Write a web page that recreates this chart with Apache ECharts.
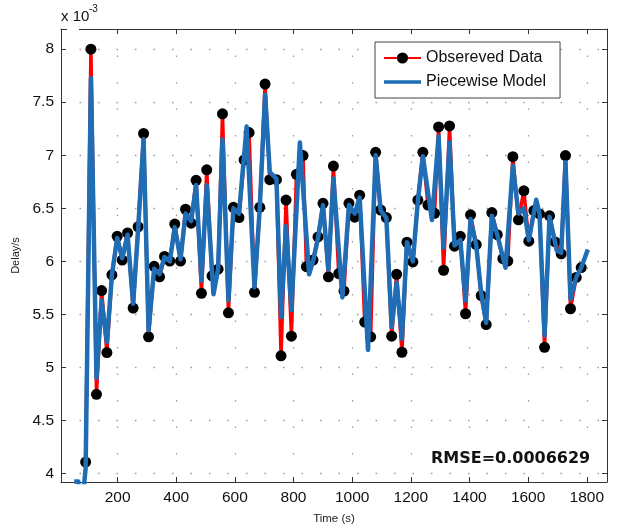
<!DOCTYPE html>
<html>
<head>
<meta charset="utf-8">
<script src="https://cdn.jsdelivr.net/npm/echarts@6/dist/echarts.min.js"></script>
<style>
html,body{margin:0;padding:0;background:#fff;}
#chart{width:619px;height:530px;}
</style>
</head>
<body>
<div id="chart"></div>
<script>
// Observed data (time in s, delay in units of 1e-3 s)
const obsTime = [91,109,128,145.5,163.5,180.6,198.6,215.7,234,253,270,288.6,305.6,324.7,343,360,378,395,414.6,431.7,
  450.8,467.8,486,504,522,542.8,557.7,578,595,614,631.4,648.4,666.8,684.8,703,719,741.7,757.4,774.5,792.8,
  809.9,832.4,843.9,866.5,883.5,900.5,918.9,936,954,972,989,1008.5,1025.5,1042.6,1063,1080,1097,1116.5,1134.6,1151.6,
  1169.7,1186.7,1207,1224,1241,1258.4,1281,1294.7,1311.7,1332,1349,1368.7,1386.7,1403.7,1423,1440,1457,1476.3,1494.7,1513.8,
  1530.8,1547.9,1567,1585.4,1602.4,1619.5,1638.9,1656,1673,1692.3,1712.8,1727.4,1744.5,1764,1781];
const obsDelay = [4.108,8.0,4.746,5.724,5.14,5.873,6.236,6.012,6.267,5.559,6.326,7.205,5.289,5.953,5.854,6.046,6.003,6.351,6.003,6.491,
  6.36,6.764,5.699,6.863,5.863,5.926,7.391,5.515,6.509,6.413,6.956,7.214,5.708,6.509,7.671,6.77,6.77,5.109,6.577,5.295,
  6.82,6.997,5.95,6.012,6.23,6.547,5.854,6.898,5.885,5.72,6.547,6.416,6.624,5.428,5.289,7.028,6.484,6.413,5.295,5.878,
  5.143,6.18,5.994,6.577,7.028,6.531,6.453,7.267,5.916,7.276,6.143,6.236,5.506,6.438,6.158,5.677,5.404,6.46,6.251,6.025,
  6.003,6.987,6.391,6.665,6.19,6.478,6.447,5.189,6.429,6.183,6.071,6.997,5.553,5.848,5.941];

// Piecewise model (time in s, delay in units of 1e-3 s)
const modelTime = [52,66,76,91,109,128,145.5,163.5,180.6,198.6,215.7,234,253,270,288.6,305.6,324.7,343,360,378,395,414.6,431.7,
  450.8,467.8,486,504,527,542.8,557.7,578,595,614,640,666.8,684.8,703,719,741.7,757.4,774.5,792.8,821.6,853,866.5,883.5,900.5,
  918.9,936,966.6,989,1008.5,1025.5,1054,1080,1097,1116.5,1134.6,1151.6,1169.7,1186.7,1207,1224,1241,1272,1294.7,1311.7,1332,
  1349,1368.7,1386.7,1403.7,1423,1440,1457,1476.3,1494.7,1523,1547.9,1567,1585.4,1602.4,1627.6,1638.9,1656,1673,1698,1712.8,
  1727.4,1744.5,1764,1781,1803.6];
const modelDelay = [3.925,3.925,3.6,4.05,7.727,4.9,5.63,5.24,5.87,6.22,6.03,6.25,5.6,6.3,7.15,5.35,5.93,5.88,6.04,6.0,6.32,6.02,6.45,
  6.38,6.72,5.817,6.717,5.69,5.93,7.15,5.63,6.5,6.45,7.27,5.755,6.5,7.57,6.84,6.78,5.475,6.33,5.54,7.12,5.878,6.0,6.22,6.53,
  5.92,6.78,5.66,6.53,6.45,6.6,5.165,7.0,6.48,6.41,5.38,5.8,5.27,6.18,6.0,6.57,6.99,6.39,7.18,6.13,7.12,
  6.15,6.2,5.63,6.4,6.15,5.7,5.42,6.43,6.25,5.94,6.9,6.45,6.5,6.2,6.58,6.45,5.3,6.42,6.1,6.08,
  6.935,5.645,5.85,5.94,6.112];

const xTicks = [200,400,600,800,1000,1200,1400,1600,1800];
const yTicks = [4,4.5,5,5.5,6,6.5,7,7.5,8];
const seriesNames = ['Obsereved Data','Piecewise Model'];
const rmseText = 'RMSE=0.0006629';

const FONT = "'Liberation Sans', Arial, sans-serif";
const frame = '#333';
const chart = echarts.init(document.getElementById('chart'), null, {renderer:'canvas'});

const xBase = {
  type:'value', min:7, max:1869,
  axisLine:{show:true, onZero:false, lineStyle:{color:frame, width:1}},
  axisTick:{show:true, inside:true, length:5, customValues:xTicks, lineStyle:{color:frame}},
};
const yBase = {
  type:'value', min:3.92, max:8.19,
  axisLine:{show:true, onZero:false, lineStyle:{color:frame, width:1}},
  axisTick:{show:true, inside:true, length:5, customValues:yTicks, lineStyle:{color:frame}},
};
const plain = v => String(v);
const lineIcon = 'path://M0,0 L0.01,0 L0.01,0.01 Z M0,5.2 L37,5.2 L37,8.8 L0,8.8 Z M0,14 L0.01,14 L0.01,13.99 Z';

chart.setOption({
  animation:false,
  backgroundColor:'#fff',
  grid:{left:61, right:12, top:29, bottom:43, containLabel:false},
  xAxis:[
    Object.assign({}, xBase, {
      position:'bottom',
      name:'Time (s)', nameLocation:'middle', nameGap:31,
      nameTextStyle:{fontFamily:FONT, fontSize:11.5, color:'#222'},
      axisLabel:{show:true, customValues:xTicks, formatter:plain, margin:8, fontFamily:FONT, fontSize:15.5, color:'#111'},
      splitLine:{show:true, lineStyle:{color:'#9a9a9a', width:1.3, type:[1.5,25]}}
    }),
    Object.assign({}, xBase, {
      position:'top',
      axisLabel:{show:false},
      splitLine:{show:false}
    })
  ],
  yAxis:[
    Object.assign({}, yBase, {
      position:'left',
      name:'Delay/s', nameLocation:'middle', nameGap:40, nameRotate:90,
      nameTextStyle:{fontFamily:FONT, fontSize:11, color:'#222'},
      axisLabel:{show:true, customValues:yTicks, formatter:plain, margin:7, fontFamily:FONT, fontSize:15.5, color:'#111'},
      splitLine:{show:true, lineStyle:{color:'#9a9a9a', width:1.3, type:[1.5,17]}}
    }),
    Object.assign({}, yBase, {
      position:'right',
      axisLabel:{show:false},
      splitLine:{show:false}
    })
  ],
  legend:{
    left:375, top:42, orient:'vertical',
    data:[{name:seriesNames[0]}, {name:seriesNames[1], icon:lineIcon}],
    backgroundColor:'#fff', borderColor:'#444', borderWidth:1,
    padding:[8,14,8,8], itemGap:8, itemWidth:37, itemHeight:14,
    textStyle:{fontFamily:FONT, fontSize:16, color:'#111'}
  },
  series:[
    {
      name:seriesNames[0], type:'line', xAxisIndex:0, yAxisIndex:0,
      data:obsTime.map((t,i)=>[t, obsDelay[i]]),
      symbol:'circle', symbolSize:11, showSymbol:true, showAllSymbol:true,
      itemStyle:{color:'#000'},
      lineStyle:{color:'#ff0000', width:3.5},
      z:2, clip:true
    },
    {
      name:seriesNames[1], type:'line', xAxisIndex:0, yAxisIndex:0,
      data:modelTime.map((t,i)=>[t, modelDelay[i]]),
      symbol:'none', showSymbol:false,
      itemStyle:{color:'#1f6db4'},
      lineStyle:{color:'#1f6db4', width:4.5, join:'round'},
      z:3, clip:true
    }
  ],
  graphic:[
    {type:'rect', left:67, top:26, shape:{width:12, height:6}, style:{fill:'#fff'}, z:10},
    {type:'text', left:61, top:9, z:11,
      style:{text:'x 10', font:"15px 'Liberation Sans', Arial, sans-serif", fill:'#111'}},
    {type:'text', left:89, top:4, z:11,
      style:{text:'-3', font:"10px 'Liberation Sans', Arial, sans-serif", fill:'#111'}},
    {type:'text', left:431, top:451, z:11,
      style:{text:rmseText, font:"bold 16px 'DejaVu Sans', sans-serif", fill:'#111'}}
  ]
});
</script>
</body>
</html>
